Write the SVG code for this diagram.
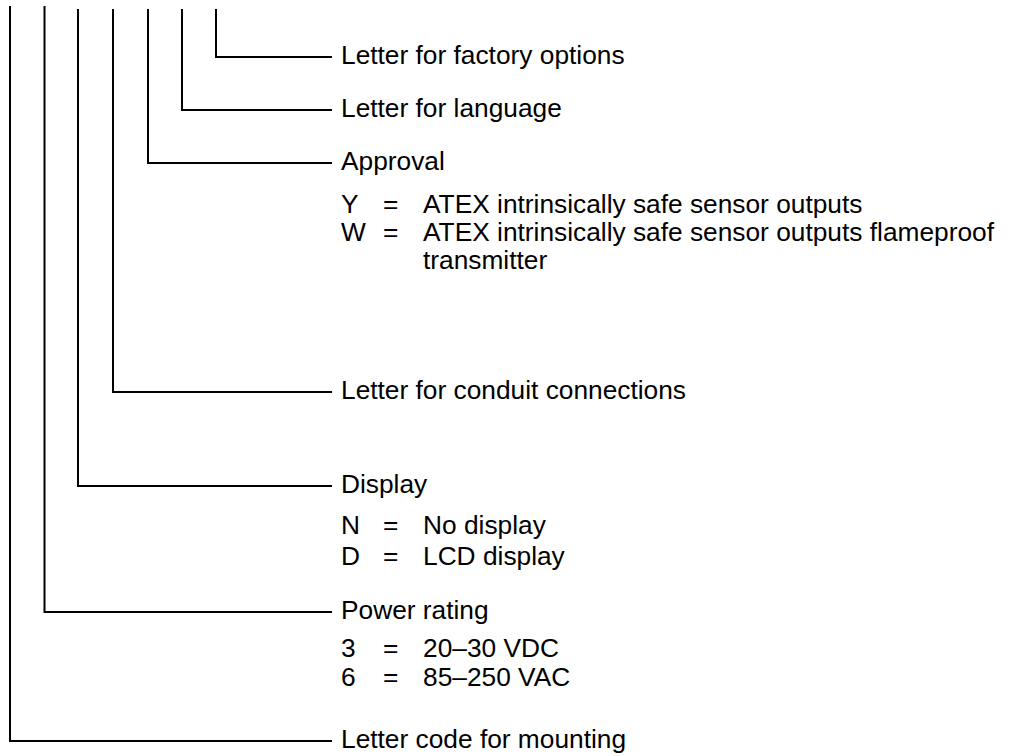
<svg xmlns="http://www.w3.org/2000/svg" width="1016" height="756" viewBox="0 0 1016 756">
<style>
  .c { fill: none; stroke: #000; stroke-width: 2; }
  text { font-family: "Liberation Sans", Arial, sans-serif; font-size: 26.3px; fill: #000; }
</style>
<rect width="1016" height="756" fill="#fff"/>
<g id="connectors">
  <polyline class="c" points="216,9 216,57 332,57"/>
  <polyline class="c" points="182,9 182,110 332,110"/>
  <polyline class="c" points="148,9 148,163 332,163"/>
  <polyline class="c" points="113,9 113,392 332,392"/>
  <polyline class="c" points="78,9 78,486 332,486"/>
  <polyline class="c" points="44.5,6 44.5,612 332,612"/>
  <polyline class="c" points="10,6 10,741 332,741"/>
</g>
<g id="factory"><text x="341" y="64">Letter for factory options</text></g>
<g id="language"><text x="341" y="117">Letter for language</text></g>
<g id="approval">
  <text x="341" y="170">Approval</text>
  <text x="341" y="213">Y</text><text x="383" y="213">=</text><text x="423" y="213">ATEX intrinsically safe sensor outputs</text>
  <text x="341" y="241">W</text><text x="383" y="241">=</text><text x="423" y="241">ATEX intrinsically safe sensor outputs flameproof</text>
  <text x="423" y="269">transmitter</text>
</g>
<g id="conduit"><text x="341" y="399">Letter for conduit connections</text></g>
<g id="display">
  <text x="341" y="493">Display</text>
  <text x="341" y="534">N</text><text x="383" y="534">=</text><text x="423" y="534">No display</text>
  <text x="341" y="565">D</text><text x="383" y="565">=</text><text x="423" y="565">LCD display</text>
</g>
<g id="power">
  <text x="341" y="619">Power rating</text>
  <text x="341" y="657">3</text><text x="383" y="657">=</text><text x="423" y="657">20–30 VDC</text>
  <text x="341" y="686">6</text><text x="383" y="686">=</text><text x="423" y="686">85–250 VAC</text>
</g>
<g id="mounting"><text x="341" y="748">Letter code for mounting</text></g>
</svg>
